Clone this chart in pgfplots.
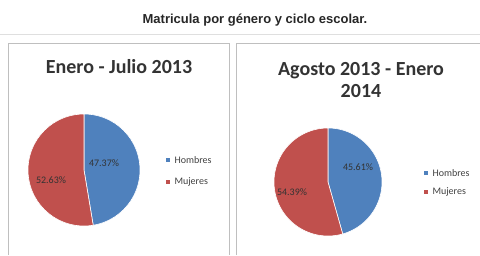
\documentclass[border=0pt]{standalone}
\usepackage{pgfplots}
\pgfplotsset{compat=1.18}
\usepackage{fontspec}
\setmainfont{Carlito}
\newfontfamily\arial{Liberation Sans}
\definecolor{hblue}{HTML}{4F81BD}
\definecolor{mred}{HTML}{C0504D}
\definecolor{frame}{HTML}{BFBFBF}
\begin{document}
\begin{tikzpicture}
\begin{axis}[
  scale only axis, width=480pt, height=255pt,
  xmin=0, xmax=480, ymin=0, ymax=255,
  axis lines=none, ticks=none, clip=false,
]
% Enero - Julio 2013: Hombres 47.37, Mujeres 52.63
\addplot[fill=hblue, draw=white, line width=0.6pt, domain={90-3.6*47.37}:90, samples=120]
  ({84+56*cos(x)},{85+56*sin(x)}) -- (axis cs:84,85) -- cycle;
\addplot[fill=mred, draw=white, line width=0.6pt, domain=-270:{90-3.6*47.37}, samples=120]
  ({84+56*cos(x)},{85+56*sin(x)}) -- (axis cs:84,85) -- cycle;
% Agosto 2013 - Enero 2014: Hombres 45.61, Mujeres 54.39
\addplot[fill=hblue, draw=white, line width=0.6pt, domain={90-3.6*45.61}:90, samples=120]
  ({328+54*cos(x)},{73+54*sin(x)}) -- (axis cs:328,73) -- cycle;
\addplot[fill=mred, draw=white, line width=0.6pt, domain=-270:{90-3.6*45.61}, samples=120]
  ({328+54*cos(x)},{73+54*sin(x)}) -- (axis cs:328,73) -- cycle;

% frames
\draw[frame!50, line width=0.6pt] (axis cs:0,221) -- (axis cs:480,221);
\draw[frame, line width=0.8pt] (axis cs:8,0) -- (axis cs:8,212) -- (axis cs:229,212) -- (axis cs:229,0);
\draw[frame, line width=0.8pt] (axis cs:236,0) -- (axis cs:236,212) -- (axis cs:480,212);

% titles
\node[font=\arial\bfseries\fontsize{13}{15}\selectfont, text=black!85] at (axis cs:255,235) {Matricula por género y ciclo escolar.};
\node[font=\bfseries\fontsize{20}{22}\selectfont, text=black!80] at (axis cs:119,188) {Enero - Julio 2013};
\node[font=\bfseries\fontsize{20}{21.5}\selectfont, text=black!80, align=center] at (axis cs:361,175) {Agosto 2013 - Enero\\2014};

% data labels
\node[font=\fontsize{10}{12}\selectfont, text=black!80] at (axis cs:104,92) {47.37\%};
\node[font=\fontsize{10}{12}\selectfont, text=black!80] at (axis cs:51,75) {52.63\%};
\node[font=\fontsize{10}{12}\selectfont, text=black!80] at (axis cs:358,88) {45.61\%};
\node[font=\fontsize{10}{12}\selectfont, text=black!80] at (axis cs:292,63) {54.39\%};

% legends
\fill[hblue] (axis cs:166,93) rectangle (axis cs:170,97);
\node[anchor=west, font=\fontsize{10}{12}\selectfont, text=black!75] at (axis cs:171,95) {Hombres};
\fill[mred] (axis cs:166,71) rectangle (axis cs:170,75);
\node[anchor=west, font=\fontsize{10}{12}\selectfont, text=black!75] at (axis cs:171,73) {Mujeres};
\fill[hblue] (axis cs:424,80) rectangle (axis cs:428,84);
\node[anchor=west, font=\fontsize{10}{12}\selectfont, text=black!75] at (axis cs:429,82) {Hombres};
\fill[mred] (axis cs:424,61) rectangle (axis cs:428,65);
\node[anchor=west, font=\fontsize{10}{12}\selectfont, text=black!75] at (axis cs:429,63) {Mujeres};
\end{axis}
\pgfresetboundingbox
\path (current axis.south west) rectangle (current axis.north east);
\end{tikzpicture}
\end{document}
